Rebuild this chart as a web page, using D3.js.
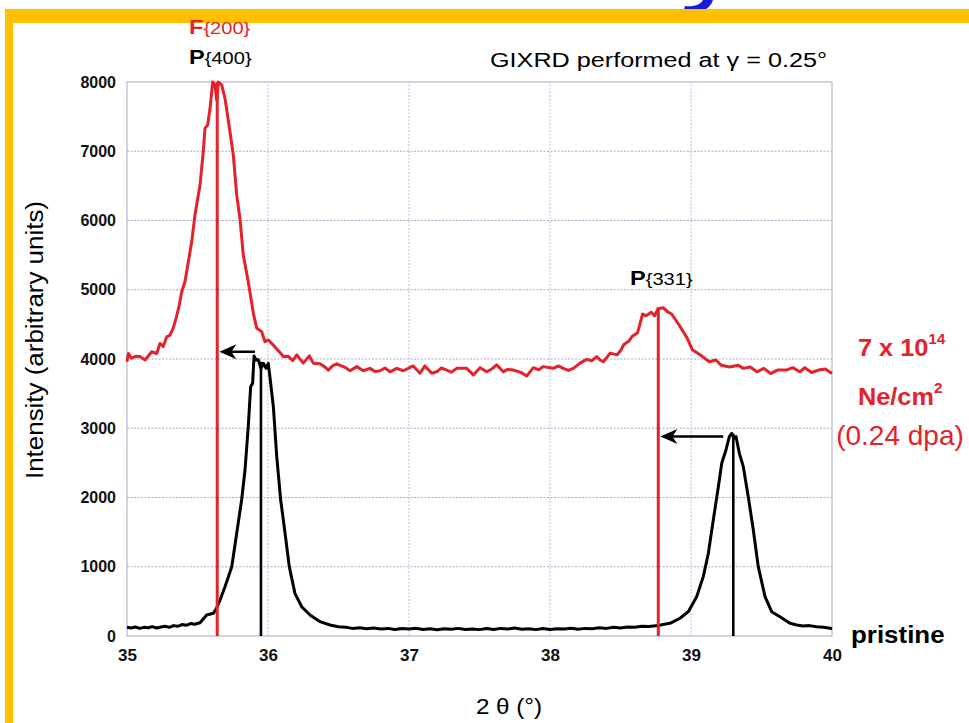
<!DOCTYPE html>
<html><head><meta charset="utf-8">
<script src="https://cdn.jsdelivr.net/npm/d3@7"></script>
<style>body{margin:0;background:#fff}svg{display:block}</style>
</head><body><svg id="c" width="969" height="723"></svg>
<script>
const xTicks = [35, 36, 37, 38, 39, 40];
const yTicks = [0, 1000, 2000, 3000, 4000, 5000, 6000, 7000, 8000];

// irradiated (7e14 Ne/cm2) pattern, [2theta, intensity]
const redCurve = [
[35.000,3960],[35.010,4080],[35.033,4010],[35.060,4040],[35.092,4035],[35.128,3985],[35.175,4105],[35.211,4080],
[35.234,4225],[35.257,4180],[35.282,4320],[35.305,4345],[35.328,4445],[35.350,4600],[35.371,4780],[35.388,4970],
[35.411,5115],[35.435,5405],[35.459,5695],[35.482,6080],[35.518,6515],[35.541,6995],[35.553,7330],[35.572,7380],
[35.589,7620],[35.608,8000],[35.624,7955],[35.636,7740],[35.648,8000],[35.672,7955],[35.695,7765],[35.730,7285],
[35.754,6945],[35.778,6370],[35.801,6030],[35.825,5500],[35.860,5115],[35.896,4660],[35.920,4445],[35.955,4395],
[35.979,4250],[36.002,4275],[36.038,4200],[36.080,4105],[36.109,4035],[36.144,4040],[36.175,3975],[36.204,4060],
[36.250,3940],[36.293,4045],[36.321,3940],[36.369,3930],[36.400,3890],[36.428,3840],[36.460,3905],[36.487,3930],
[36.546,3880],[36.582,3830],[36.629,3890],[36.676,3830],[36.723,3865],[36.760,3820],[36.794,3830],[36.830,3870],
[36.865,3815],[36.913,3865],[36.960,3830],[37.030,3900],[37.078,3795],[37.113,3900],[37.161,3795],[37.196,3815],
[37.230,3870],[37.267,3840],[37.300,3810],[37.338,3865],[37.409,3865],[37.456,3770],[37.504,3875],[37.551,3815],
[37.590,3860],[37.622,3915],[37.669,3815],[37.700,3850],[37.740,3840],[37.790,3810],[37.835,3755],[37.882,3875],
[37.920,3845],[37.953,3890],[38.023,3865],[38.060,3900],[38.094,3865],[38.130,3835],[38.165,3865],[38.213,3940],
[38.260,3995],[38.296,3975],[38.331,4035],[38.355,3985],[38.379,3960],[38.427,4085],[38.475,4060],[38.500,4120],
[38.524,4210],[38.560,4260],[38.584,4330],[38.621,4380],[38.657,4650],[38.681,4625],[38.718,4675],[38.742,4625],
[38.766,4725],[38.802,4740],[38.839,4675],[38.863,4650],[38.911,4505],[38.972,4305],[39.009,4135],[39.045,4085],
[39.081,4035],[39.129,3960],[39.177,3985],[39.214,3910],[39.274,3885],[39.335,3910],[39.371,3865],[39.420,3885],
[39.468,3815],[39.516,3865],[39.565,3790],[39.613,3840],[39.674,3840],[39.722,3875],[39.771,3815],[39.807,3875],
[39.855,3805],[39.904,3840],[39.952,3855],[40.000,3790]
];

// pristine pattern, [2theta, intensity]
const blackCurve = [
[35.00,125],[35.03,115],[35.06,130],[35.09,110],[35.12,125],[35.15,120],[35.18,135],[35.21,115],[35.24,130],
[35.27,140],[35.30,125],[35.33,150],[35.36,140],[35.39,165],[35.42,155],[35.45,180],[35.48,170],[35.518,192],
[35.565,303],[35.612,328],[35.631,385],[35.660,520],[35.695,712],[35.743,1000],[35.778,1483],[35.813,1964],
[35.837,2397],[35.860,3022],[35.877,3600],[35.891,3648],[35.901,4043],[35.915,3986],[35.931,3990],[35.950,3866],
[35.967,3938],[35.986,3866],[36.002,3938],[36.019,3648],[36.038,3311],[36.062,2589],[36.090,1964],[36.121,1483],
[36.151,1001],[36.191,616],[36.239,423],[36.298,303],[36.369,207],[36.440,159],[36.499,134],
[36.55,125],[36.60,110],[36.65,120],[36.70,105],[36.75,115],[36.80,100],[36.85,110],[36.90,95],[36.95,108],
[37.00,100],[37.05,112],[37.10,95],[37.15,105],[37.20,90],[37.25,105],[37.30,98],[37.35,110],[37.40,95],
[37.45,100],[37.50,92],[37.55,108],[37.60,95],[37.65,110],[37.70,100],[37.75,115],[37.80,98],[37.85,105],
[37.90,92],[37.95,108],[38.00,95],[38.05,105],[38.10,100],[38.15,112],[38.20,98],[38.25,110],[38.30,105],
[38.35,118],[38.40,110],[38.45,125],[38.50,115],[38.55,130],[38.60,125],[38.65,140],[38.70,138],[38.77,150],
[38.80,165],[38.851,183],[38.922,256],[38.981,351],[39.040,568],[39.087,857],[39.123,1194],[39.158,1675],
[39.194,2156],[39.218,2494],[39.248,2686],[39.272,2878],[39.289,2926],[39.305,2855],[39.319,2880],[39.343,2638],
[39.371,2445],[39.406,2011],[39.442,1531],[39.477,1001],[39.525,568],[39.572,351],[39.631,279],[39.702,183],
[39.75,160],[39.796,144],[39.84,150],[39.890,134],[39.94,125],[39.986,111],[40.00,105]
];

// reflection markers
const refLines = [
  {x: 35.64, top: 8000, color: "red"},
  {x: 35.95, top: 3960, color: "black"},
  {x: 38.768, top: 4740, color: "red"},
  {x: 39.30, top: 2920, color: "black"}
];
const shifts = [
  {from: 35.908, to: 35.655, y: 4105},
  {from: 39.229, to: 38.783, y: 2880}
];

const RED = "#e4222b";
const svg = d3.select("#c");
const x = d3.scaleLinear().domain([35, 40]).range([127, 832]);
const y = d3.scaleLinear().domain([0, 8000]).range([636, 82]);

svg.append("rect").attr("width", 969).attr("height", 723).attr("fill", "#fff");

// cut-off blue title glyph fragment at top
svg.append("path")
  .attr("d", "M703,0 L713,0 C710,9 702,13 690,13 L683,13 L685,6 C694,7 700,5 703,0 Z")
  .attr("fill", "#1a1adc");

// slide frame
svg.append("rect").attr("x", 5).attr("y", 9).attr("width", 964).attr("height", 14).attr("fill", "#ffc000");
svg.append("rect").attr("x", 5).attr("y", 9).attr("width", 8).attr("height", 714).attr("fill", "#ffc000");

// grid
const grid = svg.append("g");
grid.selectAll(".h").data(yTicks.filter(d => d > 0 && d < 8000)).join("line")
  .attr("x1", x(35)).attr("x2", x(40)).attr("y1", d => y(d)).attr("y2", d => y(d))
  .attr("stroke", "#a9abc6").attr("stroke-width", 1).attr("stroke-dasharray", "2,1.5");
grid.selectAll(".v").data(xTicks.filter(d => d > 35 && d < 40)).join("line")
  .attr("x1", d => x(d)).attr("x2", d => x(d)).attr("y1", y(0)).attr("y2", y(8000))
  .attr("stroke", "#b6bde0").attr("stroke-width", 1).attr("stroke-dasharray", "2,1.5");
svg.append("rect").attr("x", x(35)).attr("y", y(8000)).attr("width", x(40) - x(35)).attr("height", y(0) - y(8000))
  .attr("fill", "none").attr("stroke", "#a7aac6").attr("stroke-width", 1);

// axes
const yAxis = svg.append("g").attr("transform", `translate(${x(35)},0)`)
  .call(d3.axisLeft(y).tickValues(yTicks).tickFormat(d3.format("d")).tickSize(0).tickPadding(11));
const xAxis = svg.append("g").attr("transform", `translate(0,${y(0)})`)
  .call(d3.axisBottom(x).tickValues(xTicks).tickFormat(d3.format("d")).tickSize(0).tickPadding(13));
[yAxis, xAxis].forEach(a => {
  a.select(".domain").remove();
  a.selectAll("text").attr("font-family", "Liberation Sans, Arial, sans-serif")
    .attr("font-weight", "bold").attr("fill", "#111");
});
yAxis.selectAll("text").attr("font-size", 16);
xAxis.selectAll("text").attr("font-size", 17);

// curves
const line = d3.line().x(d => x(d[0])).y(d => y(d[1]));
svg.append("path").datum(blackCurve).attr("d", line).attr("fill", "none")
  .attr("stroke", "#000").attr("stroke-width", 3).attr("stroke-linejoin", "round");
svg.append("path").datum(redCurve).attr("d", line).attr("fill", "none")
  .attr("stroke", RED).attr("stroke-width", 3).attr("stroke-linejoin", "round");

// reflection lines
svg.selectAll(".ref").data(refLines).join("line")
  .attr("x1", d => x(d.x)).attr("x2", d => x(d.x)).attr("y1", d => y(d.top)).attr("y2", y(0))
  .attr("stroke", d => d.color === "red" ? RED : "#000").attr("stroke-width", d => d.color === "red" ? 3 : 2.6);

// arrows (peak shift)
svg.selectAll(".arr").data(shifts).join("line")
  .attr("x1", d => x(d.from)).attr("x2", d => x(d.to) + 4).attr("y1", d => y(d.y)).attr("y2", d => y(d.y))
  .attr("stroke", "#000").attr("stroke-width", 2.4);
svg.selectAll(".arrh").data(shifts).join("path")
  .attr("d", d => `M${x(d.to)},${y(d.y)} l17,-7.5 l-5,7.5 l5,7.5 z`).attr("fill", "#000");

// text helper
function label(px, py, parts, opt = {}) {
  const g = svg.append("g").attr("transform", `translate(${px},${py}) scale(${opt.sx || 1},1)`);
  const t = g.append("text").attr("font-family", "Liberation Sans, Arial, sans-serif")
    .attr("text-anchor", opt.anchor || "start").attr("fill", opt.fill || "#000");
  parts.forEach(p => {
    const s = t.append("tspan").text(p.t).attr("font-size", p.size).attr("font-weight", p.bold ? "bold" : "normal");
    if (p.dy) s.attr("dy", p.dy);
  });
  return t;
}

label(189, 34, [{t: "F", size: 20, bold: true}, {t: "{200}", size: 17}], {fill: RED, sx: 1.18});
label(189, 64, [{t: "P", size: 20, bold: true}, {t: "{400}", size: 17}], {sx: 1.18});
label(630, 285, [{t: "P", size: 20, bold: true}, {t: "{331}", size: 17}], {sx: 1.18});
label(490, 67, [{t: "GIXRD performed at γ = 0.25°", size: 21}], {sx: 1.2});

label(858, 356, [{t: "7 x 10", size: 23, bold: true}, {t: "14", size: 14, bold: true, dy: -12}], {fill: RED, sx: 1.1});
label(858, 405, [{t: "Ne/cm", size: 23, bold: true}, {t: "2", size: 14, bold: true, dy: -12}], {fill: RED, sx: 1.1});
label(900, 445, [{t: "(0.24 dpa)", size: 28}], {fill: RED, anchor: "middle"});
label(851, 643, [{t: "pristine", size: 24, bold: true}], {sx: 1.08});

label(509, 714, [{t: "2 θ (°)", size: 22}], {anchor: "middle", sx: 1.1});
svg.append("text").attr("transform", "translate(43,340) rotate(-90)")
  .attr("text-anchor", "middle").attr("font-family", "Liberation Sans, Arial, sans-serif")
  .attr("font-size", 23).attr("fill", "#000")
  .attr("textLength", 278).attr("lengthAdjust", "spacingAndGlyphs")
  .text("Intensity (arbitrary units)");
</script></body></html>
